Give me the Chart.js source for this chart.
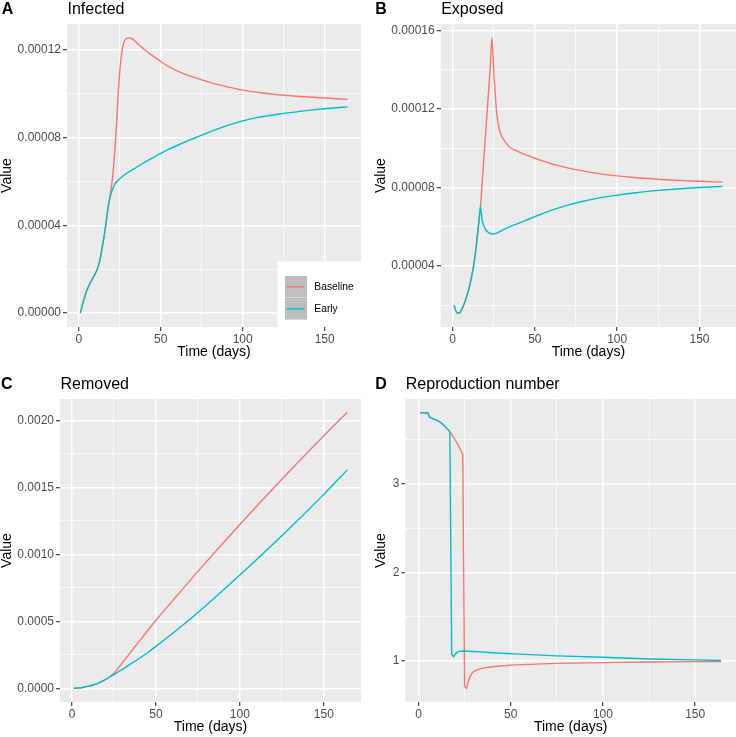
<!DOCTYPE html>
<html><head><meta charset="utf-8">
<script src="https://cdn.jsdelivr.net/npm/chart.js@4"></script>
<style>
html,body{margin:0;padding:0;background:#fff;}
#wrap{position:relative;width:736px;height:737px;overflow:hidden;background:#fff;}
canvas{position:absolute;}
</style></head><body><div id="wrap">
<canvas id="cA" width="368" height="368" style="left:0;top:0"></canvas>
<canvas id="cB" width="368" height="368" style="left:368px;top:0"></canvas>
<canvas id="cC" width="368" height="369" style="left:0;top:368px"></canvas>
<canvas id="cD" width="368" height="369" style="left:368px;top:368px"></canvas>
</div>
<script>
// ---------- shared ----------
const seriesNames = ['Baseline', 'Early'];
const seriesColors = ['#F8766D', '#00BFC4'];
const xTicks = [0, 50, 100, 150];
const xTickLabels = ['0', '50', '100', '150'];
const xMinorTicks = [25, 75, 125];
const xTitle = 'Time (days)';
const yTitle = 'Value';

// ---------- A: Infected ----------
const infectedDaysBaseline = [1,2,3,4,5,6,7,8,9,10,11,12,13,14,15,16,17,18,19,20,21,22,23,24,25,26,27,28,29,30,31,32,33,34,35,37,40,45,50,55,60,65,70,75,80,90,100,110,125,140,150,164];
const infectedBaseline = [0,0.3e-5,0.58e-5,0.82e-5,1.05e-5,1.22e-5,1.37e-5,1.51e-5,1.65e-5,1.79e-5,1.94e-5,2.15e-5,2.45e-5,2.85e-5,3.28e-5,3.75e-5,4.3e-5,4.85e-5,5.3e-5,5.78e-5,6.45e-5,7.35e-5,8.55e-5,9.85e-5,10.95e-5,11.72e-5,12.17e-5,12.4e-5,12.49e-5,12.52e-5,12.53e-5,12.51e-5,12.46e-5,12.4e-5,12.33e-5,12.2e-5,12.0e-5,11.72e-5,11.46e-5,11.22e-5,11.03e-5,10.87e-5,10.74e-5,10.62e-5,10.5e-5,10.31e-5,10.15e-5,10.04e-5,9.92e-5,9.84e-5,9.79e-5,9.73e-5];
const infectedDaysEarly = [1,2,3,4,5,6,7,8,9,10,11,12,13,14,15,16,17,18,19,20,21,22,24,27,30,35,40,45,50,55,60,65,70,75,80,90,100,110,125,140,150,164];
const infectedEarly = [0,0.3e-5,0.58e-5,0.82e-5,1.05e-5,1.22e-5,1.37e-5,1.51e-5,1.65e-5,1.79e-5,1.94e-5,2.15e-5,2.45e-5,2.85e-5,3.28e-5,3.75e-5,4.3e-5,4.85e-5,5.24e-5,5.5e-5,5.7e-5,5.86e-5,6.05e-5,6.24e-5,6.4e-5,6.63e-5,6.86e-5,7.07e-5,7.27e-5,7.46e-5,7.63e-5,7.8e-5,7.95e-5,8.1e-5,8.25e-5,8.52e-5,8.75e-5,8.92e-5,9.09e-5,9.23e-5,9.3e-5,9.39e-5];
const infectedTicks = [0, 0.00004, 0.00008, 0.00012];
const infectedTickLabels = ['0.00000', '0.00004', '0.00008', '0.00012'];
const infectedMinorTicks = [0.00002, 0.00006, 0.00010];

// ---------- B: Exposed ----------
const exposedDaysBaseline = [1,2,3,4,5,6,7,8,9,10,11,12,13,14,15,16,17,18,19,20,21,22,23,24,25,26,27,28,29,30,31,33,35,40,45,50,55,60,65,70,75,80,90,100,110,125,140,150,164];
const exposedBaseline = [2.0e-5,1.72e-5,1.6e-5,1.6e-5,1.68e-5,1.85e-5,2.05e-5,2.28e-5,2.55e-5,2.85e-5,3.2e-5,3.62e-5,4.12e-5,4.72e-5,5.46e-5,6.22e-5,7.02e-5,8.2e-5,9.4e-5,10.6e-5,11.8e-5,13.0e-5,14.3e-5,15.63e-5,14.0e-5,12.7e-5,11.7e-5,11.15e-5,10.8e-5,10.6e-5,10.45e-5,10.22e-5,10.04e-5,9.83e-5,9.65e-5,9.49e-5,9.34e-5,9.21e-5,9.1e-5,9.0e-5,8.91e-5,8.83e-5,8.69e-5,8.59e-5,8.51e-5,8.42e-5,8.35e-5,8.32e-5,8.27e-5];
const exposedDaysEarly = [1,2,3,4,5,6,7,8,9,10,11,12,13,14,15,16,17,18,19,20,21,22,24,26,28,33,43,50,53,60,65,70,75,80,90,100,110,125,140,150,164];
const exposedEarly = [2.0e-5,1.72e-5,1.6e-5,1.6e-5,1.68e-5,1.85e-5,2.05e-5,2.28e-5,2.55e-5,2.85e-5,3.2e-5,3.62e-5,4.12e-5,4.72e-5,5.46e-5,6.22e-5,7.02e-5,6.35e-5,6.05e-5,5.88e-5,5.77e-5,5.7e-5,5.63e-5,5.65e-5,5.72e-5,5.93e-5,6.27e-5,6.51e-5,6.61e-5,6.83e-5,6.97e-5,7.1e-5,7.21e-5,7.31e-5,7.48e-5,7.61e-5,7.72e-5,7.85e-5,7.95e-5,8.0e-5,8.05e-5];
const exposedTicks = [0.00004, 0.00008, 0.00012, 0.00016];
const exposedTickLabels = ['0.00004', '0.00008', '0.00012', '0.00016'];
const exposedMinorTicks = [0.00002, 0.00006, 0.00010, 0.00014];

// ---------- C: Removed ----------
const removedDaysBaseline = [1,4,7,10,13,16,19,22,23,24,25,26,27,28,29,30,35,40,45,50,60,75,100,125,150,164];
const removedBaseline = [0,0.02e-4,0.07e-4,0.15e-4,0.26e-4,0.4e-4,0.58e-4,0.8e-4,0.89e-4,1.0e-4,1.12e-4,1.26e-4,1.41e-4,1.57e-4,1.73e-4,1.9e-4,2.7e-4,3.5e-4,4.29e-4,5.07e-4,6.54e-4,8.72e-4,12.22e-4,15.6e-4,18.85e-4,20.6e-4];
const removedDaysEarly = [1,4,7,10,13,16,19,22,25,30,35,40,45,50,60,75,100,125,150,164];
const removedEarly = [0,0.02e-4,0.07e-4,0.15e-4,0.26e-4,0.4e-4,0.58e-4,0.8e-4,1.02e-4,1.41e-4,1.81e-4,2.22e-4,2.65e-4,3.12e-4,4.1e-4,5.65e-4,8.45e-4,11.38e-4,14.47e-4,16.3e-4];
const removedTicks = [0, 0.0005, 0.0010, 0.0015, 0.0020];
const removedTickLabels = ['0.0000', '0.0005', '0.0010', '0.0015', '0.0020'];
const removedMinorTicks = [0.00025, 0.00075, 0.00125, 0.00175];

// ---------- D: Reproduction number ----------
const reproDaysBaseline = [1,2,3,4,5,6,8,10,12,14,16,17,18,19,20,21,22,23,24,25,26,27,28,29,30,32,35,40,52,75,100,125,150,164];
const reproBaseline = [3.8,3.8,3.8,3.8,3.8,3.75,3.73,3.715,3.69,3.655,3.61,3.585,3.555,3.525,3.49,3.455,3.415,3.375,3.33,0.72,0.69,0.77,0.83,0.865,0.885,0.905,0.922,0.938,0.958,0.975,0.984,0.99,0.995,0.997];
const reproDaysEarly = [1,2,3,4,5,6,8,10,12,14,16,17,18,19,20,21,22,24,30,40,52,75,100,125,150,164];
const reproEarly = [3.8,3.8,3.8,3.8,3.8,3.75,3.73,3.715,3.69,3.655,3.61,3.585,1.08,1.05,1.08,1.1,1.11,1.115,1.11,1.095,1.082,1.06,1.045,1.025,1.015,1.007];
const reproTicks = [1, 2, 3];
const reproTickLabels = ['1', '2', '3'];
const reproMinorTicks = [1.5, 2.5, 3.5];

// ---------- helpers ----------
const FONT = "'Liberation Sans', Arial, Helvetica, sans-serif";
Chart.defaults.font.family = FONT;

function pts(xs, ys) { return xs.map((x, i) => ({ x: x, y: ys[i] })); }

function tickSetter(majors, labels, minors) {
  return function (axis) {
    const t = majors.map((v, i) => ({ value: v, isMajor: true, lbl: labels[i] }))
      .concat(minors.map(v => ({ value: v, isMajor: false, lbl: '' })));
    t.sort((a, b) => a.value - b.value);
    axis.ticks = t;
  };
}

const gridOpts = {
  color: ctx => '#FFFFFF',
  lineWidth: ctx => (ctx.tick && ctx.tick.isMajor) ? 1.4 : 0.7,
  tickColor: ctx => (ctx.tick && ctx.tick.isMajor) ? '#333333' : 'rgba(0,0,0,0)',
  tickWidth: 1.1,
  tickLength: 4,
  drawTicks: true,
  drawOnChartArea: true
};

const panelBg = {
  id: 'panelBg',
  beforeDraw(chart) {
    const { ctx, chartArea: a } = chart;
    ctx.save();
    ctx.fillStyle = '#EBEBEB';
    ctx.fillRect(a.left, a.top, a.right - a.left, a.bottom - a.top);
    ctx.restore();
  }
};

const heading = {
  id: 'heading',
  afterDraw(chart, args, o) {
    const { ctx, chartArea: a } = chart;
    ctx.save();
    ctx.fillStyle = '#000';
    ctx.textBaseline = 'alphabetic';
    ctx.textAlign = 'left';
    ctx.font = 'bold 16px ' + FONT;
    ctx.fillText(o.letter, o.letterX, o.baseline);
    ctx.font = '16px ' + FONT;
    ctx.fillText(o.title, a.left + 0.5, o.baseline);
    if (o.legend) {
      const L = 277.5, T = 261.5;
      ctx.fillStyle = '#FFFFFF';
      ctx.fillRect(L, T, a.right - L, a.bottom - T);
      const keyX = 285, keyW = 22, keyH = 21.6;
      const keyY = [276, 298];
      seriesNames.forEach((name, i) => {
        ctx.fillStyle = '#BEBEBE';
        ctx.fillRect(keyX, keyY[i], keyW, keyH);
        ctx.strokeStyle = seriesColors[i];
        ctx.lineWidth = 1.4;
        ctx.beginPath();
        const cy = keyY[i] + keyH / 2;
        ctx.moveTo(keyX + 1.5, cy);
        ctx.lineTo(keyX + keyW - 2.5, cy);
        ctx.stroke();
        ctx.fillStyle = '#000';
        ctx.font = '10.3px ' + FONT;
        ctx.textBaseline = 'middle';
        ctx.fillText(name, 314.3, cy);
      });
    }
    ctx.restore();
  }
};

function makePanel(id, p) {
  const datasets = [
    { label: seriesNames[0], data: pts(p.bx, p.by), borderColor: seriesColors[0], order: 2 },
    { label: seriesNames[1], data: pts(p.ex, p.ey), borderColor: seriesColors[1], order: 1 }
  ].map(d => Object.assign(d, {
    borderWidth: 1.4, pointRadius: 0, pointHoverRadius: 0, fill: false,
    tension: p.smooth ? 0.4 : 0, cubicInterpolationMode: p.smooth ? 'monotone' : 'default',
    borderJoinStyle: 'round', borderCapStyle: 'butt'
  }));
  return new Chart(document.getElementById(id), {
    type: 'line',
    data: { datasets: datasets },
    plugins: [panelBg, heading],
    options: {
      responsive: false, animation: false, devicePixelRatio: 1,
      events: [],
      layout: { padding: { left: 0, top: p.top, right: p.right, bottom: 0 } },
      plugins: {
        legend: { display: false }, tooltip: { enabled: false },
        heading: { letter: p.letter, title: p.title, letterX: p.letterX, baseline: p.baseline, legend: !!p.legend }
      },
      scales: {
        x: {
          type: 'linear', min: -7.15, max: 172.15,
          afterBuildTicks: tickSetter(xTicks, xTickLabels, xMinorTicks),
          afterFit: s => { s.height = p.xh; },
          grid: gridOpts, border: { display: false },
          ticks: { autoSkip: false, maxRotation: 0, minRotation: 0, padding: 1, color: '#4D4D4D',
                   font: { size: 12, family: FONT },
                   callback: (v, i, t) => t[i].lbl },
          title: { display: true, text: xTitle, color: '#000', font: { size: 14, family: FONT, lineHeight: 1 },
                   padding: { top: 0, bottom: p.xtp } }
        },
        y: {
          type: 'linear', min: p.ymin, max: p.ymax,
          afterBuildTicks: tickSetter(p.yt, p.yl, p.ym),
          afterFit: s => { s.width = p.yw; },
          grid: gridOpts, border: { display: false },
          ticks: { autoSkip: false, padding: 2, color: '#4D4D4D',
                   font: { size: 12, family: FONT },
                   callback: (v, i, t) => t[i].lbl },
          title: { display: true, text: yTitle, color: '#000', font: { size: 14, family: FONT, lineHeight: 1 },
                   padding: { top: p.ytp, bottom: 0 } }
        }
      }
    }
  });
}

makePanel('cA', {
  letter: 'A', title: 'Infected', letterX: 1.7, baseline: 13.8, legend: true,
  bx: infectedDaysBaseline, by: infectedBaseline, ex: infectedDaysEarly, ey: infectedEarly, smooth: true,
  ymin: -0.0000063, ymax: 0.0001316, yt: infectedTicks, yl: infectedTickLabels, ym: infectedMinorTicks,
  top: 24, right: 7, yw: 67, xh: 41, xtp: 9.2, ytp: 0
});
makePanel('cB', {
  letter: 'B', title: 'Exposed', letterX: 7.3, baseline: 13.8,
  bx: exposedDaysBaseline, by: exposedBaseline, ex: exposedDaysEarly, ey: exposedEarly, smooth: true,
  ymin: 0.0000089, ymax: 0.0001633, yt: exposedTicks, yl: exposedTickLabels, ym: exposedMinorTicks,
  top: 24, right: 0, yw: 72.7, xh: 41, xtp: 9.2, ytp: 6.5
});
makePanel('cC', {
  letter: 'C', title: 'Removed', letterX: 1, baseline: 20.6,
  bx: removedDaysBaseline, by: removedBaseline, ex: removedDaysEarly, ey: removedEarly, smooth: true,
  ymin: -0.000103, ymax: 0.002159, yt: removedTicks, yl: removedTickLabels, ym: removedMinorTicks,
  top: 31, right: 7, yw: 60, xh: 35, xtp: 2.9, ytp: 0
});
makePanel('cD', {
  letter: 'D', title: 'Reproduction number', letterX: 7.3, baseline: 20.6,
  bx: reproDaysBaseline, by: reproBaseline, ex: reproDaysEarly, ey: reproEarly, smooth: false,
  ymin: 0.54, ymax: 3.955, yt: reproTicks, yl: reproTickLabels, ym: reproMinorTicks,
  top: 31, right: 0, yw: 37.3, xh: 35, xtp: 2.9, ytp: 6.5
});
</script>
</body></html>
